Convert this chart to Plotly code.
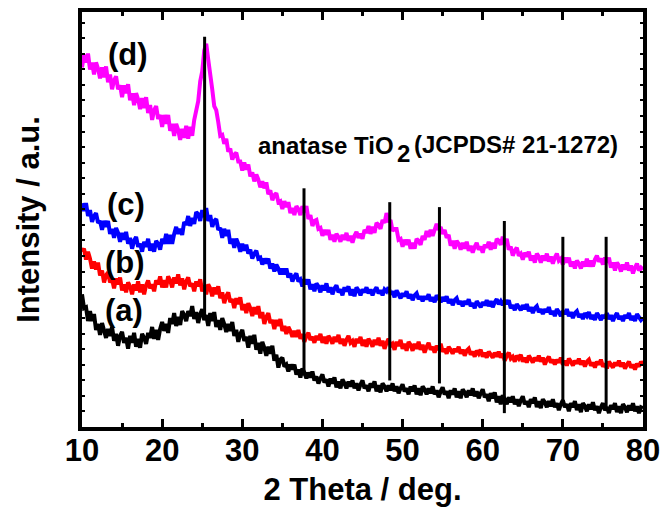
import numpy as np
import plotly.graph_objects as go

# 2-theta grid (deg), 0.25 deg steps from 10 to 80
two_theta = np.round(np.arange(10, 80.001, 0.25), 2)

# Intensities (a.u., stacked offsets); each row covers 5 deg
int_a = [134, 120, 121, 107, 117, 107, 114, 98, 104, 93, 105, 98, 90, 99, 92, 101, 87, 94, 82, 92,
         96, 85, 90, 79, 92, 85, 95, 81, 89, 80, 94, 90, 84, 95, 90, 101, 89, 98, 88, 99,
         106, 97, 104, 95, 110, 104, 115, 102, 111, 103, 117, 113, 107, 117, 112, 122, 109, 116, 105, 114,
         119, 108, 113, 102, 115, 107, 116, 101, 108, 98, 110, 104, 96, 104, 97, 106, 92, 98, 86, 94,
         98, 87, 91, 80, 92, 84, 93, 78, 85, 74, 86, 80, 72, 81, 74, 82, 67, 73, 60, 68,
         70, 61, 63, 56, 63, 58, 63, 53, 58, 50, 59, 55, 49, 55, 50, 56, 47, 51, 44, 49,
         53, 45, 48, 41, 49, 44, 50, 40, 46, 39, 48, 44, 39, 46, 41, 47, 39, 44, 37, 43,
         47, 39, 42, 36, 44, 40, 46, 36, 42, 35, 44, 41, 36, 42, 37, 44, 36, 41, 34, 39,
         43, 36, 39, 33, 41, 36, 42, 33, 39, 32, 41, 38, 33, 39, 34, 41, 33, 37, 30, 36,
         40, 33, 36, 29, 37, 33, 39, 30, 36, 29, 38, 35, 30, 37, 32, 39, 31, 36, 29, 34,
         38, 30, 33, 26, 34, 29, 35, 25, 31, 23, 32, 28, 23, 30, 25, 31, 23, 28, 21, 27,
         31, 23, 26, 20, 28, 24, 30, 20, 26, 19, 28, 25, 20, 26, 21, 28, 20, 24, 17, 23,
         27, 20, 23, 16, 24, 20, 26, 17, 23, 15, 24, 21, 16, 23, 18, 25, 17, 21, 14, 20,
         24, 17, 20, 14, 22, 18, 24, 15, 21, 14, 23, 20, 15, 22, 17, 24, 16, 21, 14, 20,
         19]

int_b = [177, 180, 169, 177, 170, 160, 167, 159, 166, 153, 158, 146, 153, 156, 146, 149, 140, 150, 144, 151,
         138, 144, 136, 146, 142, 134, 144, 138, 147, 136, 144, 134, 143, 148, 140, 144, 137, 148, 144, 152,
         141, 148, 141, 152, 148, 141, 151, 145, 154, 143, 150, 139, 147, 151, 142, 145, 137, 147, 142, 149,
         137, 143, 134, 144, 140, 132, 141, 134, 142, 130, 136, 125, 132, 136, 126, 129, 120, 130, 124, 131,
         118, 124, 115, 125, 120, 112, 121, 114, 122, 110, 116, 104, 111, 115, 105, 108, 99, 108, 102, 109,
         97, 102, 94, 101, 97, 91, 97, 91, 98, 89, 94, 86, 92, 95, 88, 91, 85, 92, 88, 94,
         85, 91, 84, 92, 89, 84, 91, 86, 93, 84, 89, 82, 88, 92, 85, 87, 81, 89, 85, 91,
         82, 88, 81, 89, 86, 81, 88, 83, 90, 82, 87, 79, 85, 89, 82, 84, 78, 86, 82, 88,
         79, 84, 77, 86, 83, 77, 84, 79, 86, 78, 83, 75, 81, 85, 78, 81, 75, 82, 78, 84,
         76, 79, 74, 81, 78, 74, 79, 76, 81, 74, 78, 72, 77, 79, 73, 76, 71, 77, 74, 78,
         71, 75, 70, 76, 73, 70, 75, 71, 76, 70, 74, 67, 72, 75, 69, 71, 66, 72, 69, 73,
         66, 70, 65, 72, 69, 65, 70, 67, 72, 66, 70, 63, 68, 71, 65, 68, 63, 68, 65, 70,
         63, 67, 62, 69, 66, 62, 67, 64, 69, 63, 67, 61, 66, 68, 62, 65, 60, 66, 63, 68,
         61, 64, 59, 66, 63, 60, 65, 62, 67, 61, 65, 59, 63, 66, 60, 63, 58, 64, 61, 66,
         63]

int_c = [226, 218, 226, 213, 219, 207, 213, 216, 206, 208, 199, 208, 202, 208, 195, 200, 191, 201, 196, 187,
         196, 189, 197, 185, 191, 180, 188, 192, 182, 185, 177, 187, 182, 190, 178, 185, 177, 188, 185, 179,
         190, 185, 195, 185, 194, 185, 195, 202, 195, 200, 194, 207, 204, 213, 203, 211, 205, 217, 215, 208,
         219, 212, 221, 208, 214, 202, 208, 210, 199, 201, 191, 200, 193, 199, 185, 190, 181, 190, 185, 177,
         185, 178, 184, 175, 179, 170, 175, 178, 170, 171, 164, 170, 165, 170, 160, 165, 157, 164, 160, 154,
         160, 154, 160, 151, 155, 147, 152, 155, 147, 149, 142, 149, 144, 149, 139, 144, 137, 145, 142, 136,
         143, 138, 145, 136, 141, 134, 140, 143, 136, 139, 133, 141, 137, 142, 133, 139, 132, 141, 138, 133,
         139, 136, 141, 135, 139, 133, 138, 141, 135, 138, 133, 139, 137, 141, 134, 137, 131, 138, 134, 130,
         135, 132, 137, 130, 134, 128, 133, 135, 129, 132, 127, 132, 129, 134, 127, 131, 126, 133, 130, 126,
         131, 127, 132, 125, 129, 123, 128, 130, 124, 127, 122, 127, 124, 129, 122, 125, 120, 127, 124, 121,
         126, 123, 128, 122, 127, 121, 126, 129, 124, 127, 123, 128, 124, 128, 120, 123, 118, 124, 121, 118,
         123, 119, 124, 117, 121, 115, 120, 122, 116, 119, 114, 119, 116, 121, 114, 117, 112, 119, 116, 112,
         117, 114, 119, 112, 116, 110, 115, 117, 111, 114, 109, 115, 112, 116, 109, 113, 108, 115, 112, 108,
         113, 110, 115, 109, 113, 107, 112, 115, 109, 112, 107, 113, 110, 115, 108, 112, 107, 114, 111, 108,
         110]

int_d = [363, 376, 368, 377, 361, 368, 356, 368, 362, 352, 363, 353, 364, 348, 356, 341, 350, 354, 341, 345,
         333, 345, 337, 346, 330, 337, 325, 337, 331, 321, 332, 322, 333, 317, 325, 310, 320, 324, 311, 315,
         303, 315, 306, 315, 299, 306, 294, 306, 300, 290, 301, 292, 304, 291, 303, 294, 310, 321, 329, 349,
         359, 380, 387, 371, 352, 341, 324, 320, 308, 294, 295, 286, 291, 278, 281, 270, 275, 277, 268, 268,
         259, 267, 260, 265, 253, 257, 248, 255, 250, 242, 248, 241, 247, 235, 239, 229, 234, 236, 227, 228,
         220, 228, 222, 227, 216, 221, 214, 223, 220, 214, 223, 217, 223, 210, 214, 203, 208, 209, 200, 201,
         193, 199, 194, 199, 189, 194, 187, 195, 192, 187, 194, 189, 196, 188, 193, 186, 193, 197, 191, 195,
         190, 199, 196, 203, 195, 202, 196, 206, 204, 200, 209, 206, 216, 207, 209, 198, 200, 200, 189, 190,
         182, 189, 184, 189, 180, 186, 180, 190, 188, 184, 193, 189, 198, 192, 199, 193, 199, 205, 199, 202,
         195, 199, 191, 194, 183, 188, 180, 188, 185, 179, 186, 180, 187, 178, 183, 176, 182, 186, 179, 182,
         176, 184, 181, 187, 179, 186, 180, 190, 188, 184, 192, 185, 190, 179, 182, 173, 178, 181, 173, 175,
         169, 176, 172, 177, 168, 173, 166, 175, 172, 166, 173, 168, 175, 167, 172, 165, 171, 175, 168, 170,
         164, 171, 166, 171, 162, 167, 160, 168, 165, 160, 167, 162, 170, 162, 168, 162, 169, 173, 167, 170,
         164, 171, 166, 171, 161, 166, 158, 166, 163, 157, 164, 159, 166, 158, 163, 155, 161, 165, 158, 161,
         159]

series_labels = ["(a)", "(b)", "(c)", "(d)"]
series_colors = ["#000000", "#FF0000", "#0000FF", "#FF00FF"]
label_x = [12.6, 12.6, 12.85, 13.05]
label_y = [118, 166, 225, 376]

# Anatase TiO2 reference reflections (JCPDS 21-1272): position, stick top, stick bottom
ref_pos = [25.3, 37.7, 48.4, 54.6, 62.7, 70.0, 75.4]
ref_top = [394, 241, 227, 222, 208, 192, 192]
ref_bottom = [110, 52, 47, 44, 14, 23, 19]

FONT = "Liberation Sans, Arial, sans-serif"

fig = go.Figure()

for vals, col in zip([int_a, int_b, int_c, int_d], series_colors):
    fig.add_trace(go.Scatter(x=two_theta, y=vals, mode="lines",
                             line=dict(color=col, width=4), showlegend=False,
                             hoverinfo="skip"))

stick_x, stick_y = [], []
for p, t, b in zip(ref_pos, ref_top, ref_bottom):
    stick_x += [p, p, None]
    stick_y += [b, t, None]
fig.add_trace(go.Scatter(x=stick_x, y=stick_y, mode="lines",
                         line=dict(color="black", width=3), showlegend=False,
                         hoverinfo="skip"))

for lab, lx, ly in zip(series_labels, label_x, label_y):
    fig.add_annotation(x=lx, y=ly, text=lab, showarrow=False,
                       xanchor="left", yanchor="middle",
                       font=dict(family=FONT, size=31, color="black", weight="bold"))

fig.add_annotation(x=31.76, y=284, text="anatase TiO", showarrow=False,
                   xanchor="left", yanchor="middle",
                   font=dict(family=FONT, size=24, color="black", weight="bold"))
fig.add_annotation(x=49.05, y=276, text="2", showarrow=False,
                   xanchor="left", yanchor="middle",
                   font=dict(family=FONT, size=24, color="black", weight="bold"))
fig.add_annotation(x=51.15, y=285, text="(JCPDS# 21-1272)", showarrow=False,
                   xanchor="left", yanchor="middle",
                   font=dict(family=FONT, size=24, color="black", weight="bold"))

fig.update_xaxes(range=[10, 80], tickmode="linear", tick0=10, dtick=10,
                 ticks="inside", ticklen=8, tickwidth=3, tickcolor="black",
                 minor=dict(dtick=5, ticks="inside", ticklen=4, tickwidth=3,
                            tickcolor="black"),
                 showline=True, linewidth=4, linecolor="black", mirror="ticks",
                 showgrid=False, zeroline=False, ticklabelstandoff=-7,
                 tickfont=dict(family=FONT, size=31, color="black", weight="bold"),
                 title=dict(text="2 Theta / deg.", standoff=12,
                            font=dict(family=FONT, size=31, color="black",
                                      weight="bold")))
fig.update_yaxes(range=[0, 419], tickmode="linear", tick0=0, dtick=15.7,
                 ticks="inside", ticklen=3, tickwidth=2, tickcolor="black",
                 showticklabels=False,
                 showline=True, linewidth=4, linecolor="black", mirror="ticks",
                 showgrid=False, zeroline=False,
                 title=dict(text="Intensity / a.u.", standoff=30,
                            font=dict(family=FONT, size=31, color="black",
                                      weight="bold")))

fig.update_layout(width=668, height=518,
                  margin=dict(l=82, r=23, t=8, b=91),
                  paper_bgcolor="white", plot_bgcolor="white")

fig.write_html("out.html")
